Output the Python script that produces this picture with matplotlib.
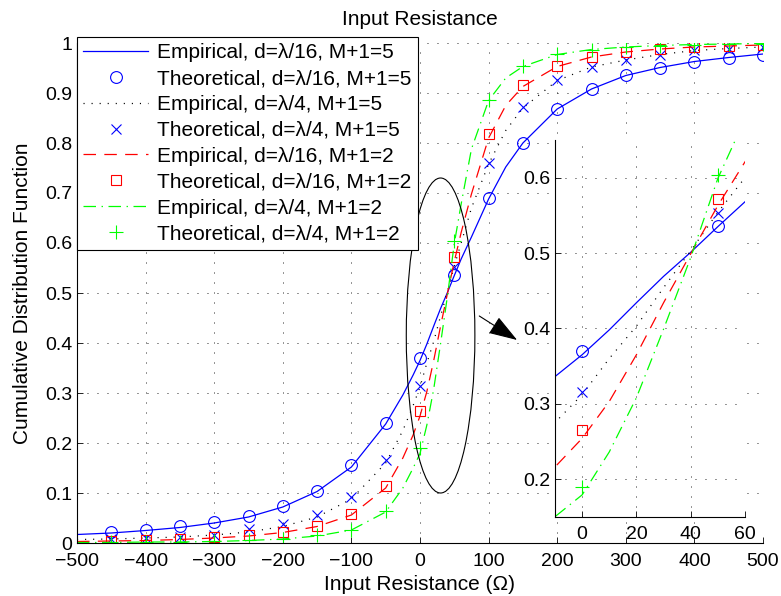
import numpy as np
import matplotlib
matplotlib.use("Agg")
import matplotlib.pyplot as plt
from matplotlib.patches import Ellipse
from matplotlib.ticker import FuncFormatter

plt.rcParams['font.family'] = ['Liberation Sans', 'DejaVu Sans']
plt.rcParams['lines.scale_dashes'] = False
plt.rcParams['axes.unicode_minus'] = True

# theoretical points
x_th = [-450, -400, -350, -300, -250, -200, -150, -100, -50, 0,
        50, 100, 150, 200, 250, 300, 350, 400, 450, 500]
th_16_5 = [0.022, 0.027, 0.034, 0.043, 0.054, 0.074, 0.105, 0.156, 0.241, 0.370,
           0.536, 0.690, 0.801, 0.869, 0.909, 0.936, 0.951, 0.963, 0.971, 0.976]
th_4_5 = [0.009, 0.011, 0.013, 0.016, 0.029, 0.039, 0.057, 0.093, 0.166, 0.315,
          0.553, 0.761, 0.873, 0.926, 0.953, 0.966, 0.977, 0.986, 0.989, 0.993]
th_16_2 = [0.005, 0.006, 0.008, 0.013, 0.017, 0.023, 0.034, 0.058, 0.114, 0.265,
           0.572, 0.818, 0.916, 0.955, 0.973, 0.983, 0.988, 0.993, 0.994, 0.996]
th_4_2 = [0.002, 0.002, 0.003, 0.005, 0.006, 0.009, 0.016, 0.027, 0.064, 0.190,
          0.604, 0.887, 0.955, 0.978, 0.987, 0.993, 0.995, 0.997, 0.998, 0.999]

# empirical curves
x_emp = [-500, -450, -400, -350, -300, -250, -200, -150, -100, -50, -25, -10, 0,
         10, 20, 30, 40, 50, 60, 75, 100, 125, 150, 200, 250, 300, 350, 400, 450, 500]
emp_16_5 = [0.017, 0.020, 0.025, 0.031, 0.040, 0.052, 0.072, 0.103, 0.152, 0.238, 0.296, 0.336, 0.365,
            0.398, 0.434, 0.469, 0.501, 0.535, 0.568, 0.612, 0.688, 0.752, 0.800, 0.868, 0.908,
            0.935, 0.951, 0.963, 0.971, 0.978]
emp_4_5 = [0.007, 0.008, 0.010, 0.012, 0.016, 0.022, 0.033, 0.052, 0.088, 0.160, 0.225, 0.275, 0.312,
           0.360, 0.403, 0.454, 0.503, 0.554, 0.600, 0.670, 0.758, 0.825, 0.870, 0.925, 0.952,
           0.966, 0.977, 0.985, 0.989, 0.992]
emp_16_2 = [0.003, 0.004, 0.005, 0.007, 0.010, 0.014, 0.021, 0.033, 0.056, 0.110, 0.170, 0.216, 0.254,
            0.303, 0.365, 0.434, 0.499, 0.563, 0.621, 0.698, 0.810, 0.875, 0.913, 0.953, 0.972,
            0.982, 0.988, 0.992, 0.994, 0.996]
emp_4_2 = [0.001, 0.001, 0.002, 0.002, 0.003, 0.005, 0.008, 0.014, 0.026, 0.062, 0.110, 0.150, 0.179,
           0.236, 0.308, 0.399, 0.494, 0.599, 0.678, 0.788, 0.885, 0.930, 0.953, 0.977, 0.987,
           0.992, 0.995, 0.997, 0.998, 0.999]

labels = ['Empirical, d=λ/16, M+1=5', 'Theoretical, d=λ/16, M+1=5',
          'Empirical, d=λ/4, M+1=5', 'Theoretical, d=λ/4, M+1=5',
          'Empirical, d=λ/16, M+1=2', 'Theoretical, d=λ/16, M+1=2',
          'Empirical, d=λ/4, M+1=2', 'Theoretical, d=λ/4, M+1=2']

FS = 15
TFS = 14
grid_kw = dict(color='k', linestyle=(0, (0.7, 6.5)), linewidth=0.6)


def draw(ax):
    h = []
    h += ax.plot(x_emp, emp_16_5, color='b', lw=0.9)
    h += ax.plot(x_th, th_16_5, 'o', color='b', mfc='none', ms=8.5, mew=0.8)
    h += ax.plot(x_emp, emp_4_5, color='k', lw=0.9, linestyle=(0, (0.8, 5)))
    h += ax.plot(x_th, th_4_5, 'x', color='b', ms=6.5, mew=0.8)
    h += ax.plot(x_emp, emp_16_2, color='r', lw=0.9, linestyle=(0, (9, 6)))
    h += ax.plot(x_th, th_16_2, 's', color='r', mfc='none', ms=7.5, mew=0.8)
    h += ax.plot(x_emp, emp_4_2, color='#00ff00', lw=0.9, linestyle=(0, (9, 4, 1, 4)))
    h += ax.plot(x_th, th_4_2, '+', color='#00ff00', ms=10, mew=0.8)
    for s in ['top', 'right']:
        ax.spines[s].set_visible(False)
    ax.tick_params(direction='in', length=4, labelsize=TFS, width=0.6)
    ax.tick_params(axis='x', pad=7)
    ax.grid(True, **grid_kw)
    return h


def fmt(v, pos):
    s = '%g' % round(v, 3)
    return s.replace('-', '\u2212')


fig = plt.figure(figsize=(7.81, 5.96), dpi=100)
ax = fig.add_axes([77 / 781, 53 / 596, 686 / 781, 500 / 596])
handles = draw(ax)
ax.set_xlim(-500, 500)
ax.set_ylim(0, 1)
ax.set_xticks(np.arange(-500, 501, 100))
ax.set_yticks(np.arange(0, 1.01, 0.1))
ax.xaxis.set_major_formatter(FuncFormatter(fmt))
ax.yaxis.set_major_formatter(FuncFormatter(fmt))
ax.set_title('Input Resistance', fontsize=FS, pad=13)
ax.set_xlabel('Input Resistance (Ω)', fontsize=FS, labelpad=4)
ax.set_ylabel('Cumulative Distribution Function', fontsize=FS, labelpad=9)

leg = ax.legend(handles, labels, loc='upper left', bbox_to_anchor=(0, 1.012),
                borderaxespad=0, fontsize=FS, fancybox=False, framealpha=1,
                edgecolor='k', numpoints=1, handlelength=3.1, handletextpad=0.45,
                labelspacing=0.33, borderpad=0.3)
leg.get_frame().set_linewidth(0.8)
leg.set_zorder(5)

ax.add_patch(Ellipse((30, 0.415), 100, 0.63, fill=False, edgecolor='k', lw=0.8, zorder=4))
ax.annotate('', xy=(145, 0.403), xytext=(83, 0.457),
            arrowprops=dict(arrowstyle='-|>,head_length=0.9,head_width=0.3',
                            color='k', lw=0.8, mutation_scale=20))

ins = fig.add_axes([555 / 781, 1 - 516.7 / 596, 190 / 781, 376.7 / 596])
draw(ins)
ins.set_xlim(-10, 60)
ins.set_ylim(0.15, 0.65)
ins.set_xticks([0, 20, 40, 60])
ins.set_yticks([0.2, 0.3, 0.4, 0.5, 0.6])
ins.yaxis.set_major_formatter(FuncFormatter(fmt))
ins.patch.set_facecolor('white')

fig.savefig('out.png', dpi=100)
